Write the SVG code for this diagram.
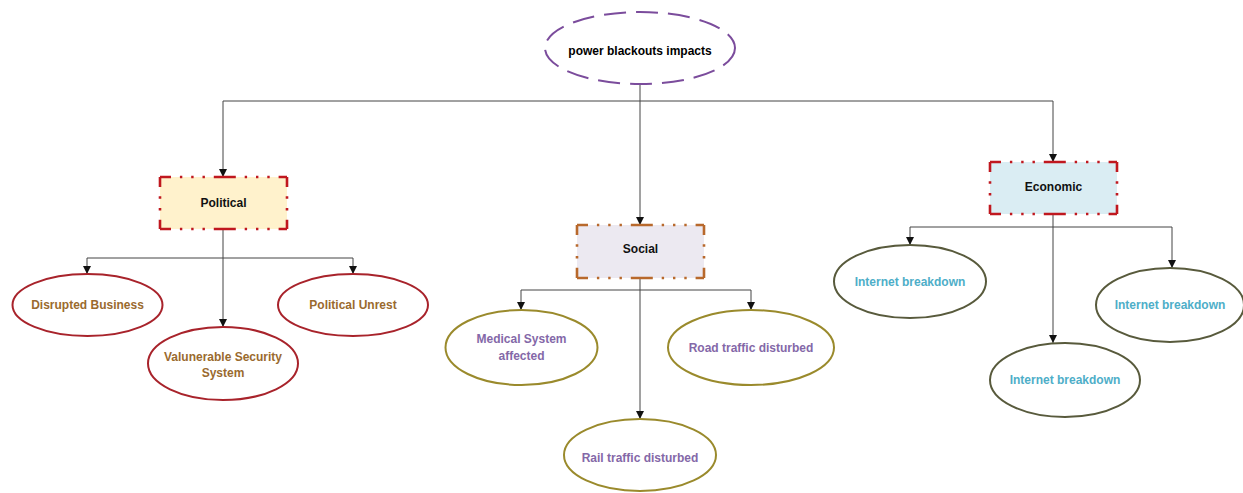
<svg xmlns="http://www.w3.org/2000/svg" width="1243" height="493" viewBox="0 0 1243 493">
  <defs>
    <marker id="arrow" viewBox="0 0 8 8" refX="8" refY="4" markerWidth="8" markerHeight="8" markerUnits="userSpaceOnUse" orient="auto">
      <path d="M0,0 L8,4 L0,8 z" fill="#111"/>
    </marker>
    <style>
      text { font-family: "Liberation Sans", Arial, sans-serif; font-weight: bold; font-size: 12px; text-anchor: middle; }
      .conn { fill: none; stroke: #444; stroke-width: 1; }
      .arr { marker-end: url(#arrow); }
      .root { fill: #fff; stroke: #7b4c9c; stroke-width: 2; stroke-dasharray: 22 10; }
      .hsides { fill: none; stroke-width: 2.6; stroke-dasharray: 22 8.9 2.4 8.9 2.4 8.9 2.4 8.9; stroke-dashoffset: 11; }
      .vsides { fill: none; stroke-width: 2.6; stroke-dasharray: 20 9.3 2.4 9.3 2.4 9.3; stroke-dashoffset: 10; }
      .red { stroke: #c0181f; }
      .brown { stroke: #b8692c; }
      .pol { fill: #fff; stroke: #a8232b; stroke-width: 2; }
      .soc { fill: #fff; stroke: #9a8a2c; stroke-width: 2; }
      .eco { fill: #fff; stroke: #585a3c; stroke-width: 2; }
      .tpol { fill: #9a6a2e; }
      .tsoc { fill: #8468a8; }
      .teco { fill: #4eaec8; }
    </style>
  </defs>

  <rect width="1243" height="493" fill="#fff"/>

  <!-- connectors -->
  <g id="connectors">
    <path class="conn" d="M640,85 V101"/>
    <path class="conn" d="M223,101 H1053"/>
    <path class="conn arr" d="M223,101 V177"/>
    <path class="conn arr" d="M640,101 V225"/>
    <path class="conn arr" d="M1053,101 V162"/>

    <path class="conn" d="M87,258 H353"/>
    <path class="conn arr" d="M87,258 V274"/>
    <path class="conn arr" d="M353,258 V274"/>
    <path class="conn arr" d="M223,229 V327"/>

    <path class="conn" d="M521,290 H751"/>
    <path class="conn arr" d="M521,290 V310"/>
    <path class="conn arr" d="M751,290 V310"/>
    <path class="conn arr" d="M640,278 V419"/>

    <path class="conn" d="M910,227 H1172"/>
    <path class="conn arr" d="M910,227 V245"/>
    <path class="conn arr" d="M1172,227 V268"/>
    <path class="conn arr" d="M1053,214 V343"/>
  </g>

  <!-- root -->
  <g id="root">
    <ellipse class="root" cx="640" cy="48" rx="95" ry="36"/>
    <text x="640" y="55">power blackouts impacts</text>
  </g>

  <!-- category boxes -->
  <g id="political">
    <rect x="160" y="177" width="127" height="52" fill="#fff2cc"/>
    <path class="hsides red" d="M160,177 H287 M160,229 H287"/>
    <path class="vsides red" d="M160,177 V229 M287,177 V229"/>
    <text x="223.5" y="207" fill="#111">Political</text>
  </g>

  <g id="social">
    <rect x="577" y="225" width="127" height="53" fill="#ece9f1"/>
    <path class="hsides brown" d="M577,225 H704 M577,278 H704"/>
    <path class="vsides brown" d="M577,225 V278 M704,225 V278"/>
    <text x="640.5" y="253" fill="#111">Social</text>
  </g>

  <g id="economic">
    <rect x="990" y="162" width="127" height="52" fill="#daedf3"/>
    <path class="hsides red" d="M990,162 H1117 M990,214 H1117"/>
    <path class="vsides red" d="M990,162 V214 M1117,162 V214"/>
    <text x="1053.5" y="191" fill="#111">Economic</text>
  </g>

  <!-- political impacts -->
  <g id="disrupted-business">
    <ellipse class="pol" cx="87.5" cy="305" rx="75" ry="31"/>
    <text class="tpol" x="87.5" y="309">Disrupted Business</text>
  </g>
  <g id="political-unrest">
    <ellipse class="pol" cx="353" cy="305" rx="75" ry="31"/>
    <text class="tpol" x="353" y="309">Political Unrest</text>
  </g>
  <g id="security-system">
    <ellipse class="pol" cx="223" cy="363.5" rx="75" ry="36.5"/>
    <text class="tpol" x="223" y="361">Valunerable Security</text>
    <text class="tpol" x="223" y="377">System</text>
  </g>

  <!-- social impacts -->
  <g id="medical-system">
    <ellipse class="soc" cx="521.5" cy="347.5" rx="76" ry="37.5"/>
    <text class="tsoc" x="521.5" y="343">Medical System</text>
    <text class="tsoc" x="521.5" y="360">affected</text>
  </g>
  <g id="road-traffic">
    <ellipse class="soc" cx="751" cy="347.5" rx="83" ry="37.5"/>
    <text class="tsoc" x="751" y="352">Road traffic disturbed</text>
  </g>
  <g id="rail-traffic">
    <ellipse class="soc" cx="640" cy="455" rx="76" ry="36"/>
    <text class="tsoc" x="640" y="462">Rail traffic disturbed</text>
  </g>

  <!-- economic impacts -->
  <g id="internet-1">
    <ellipse class="eco" cx="910" cy="281.5" rx="76" ry="36.5"/>
    <text class="teco" x="910" y="286">Internet breakdown</text>
  </g>
  <g id="internet-2">
    <ellipse class="eco" cx="1170" cy="305" rx="74" ry="37"/>
    <text class="teco" x="1170" y="309">Internet breakdown</text>
  </g>
  <g id="internet-3">
    <ellipse class="eco" cx="1065" cy="380" rx="75" ry="37"/>
    <text class="teco" x="1065" y="384">Internet breakdown</text>
  </g>
</svg>
